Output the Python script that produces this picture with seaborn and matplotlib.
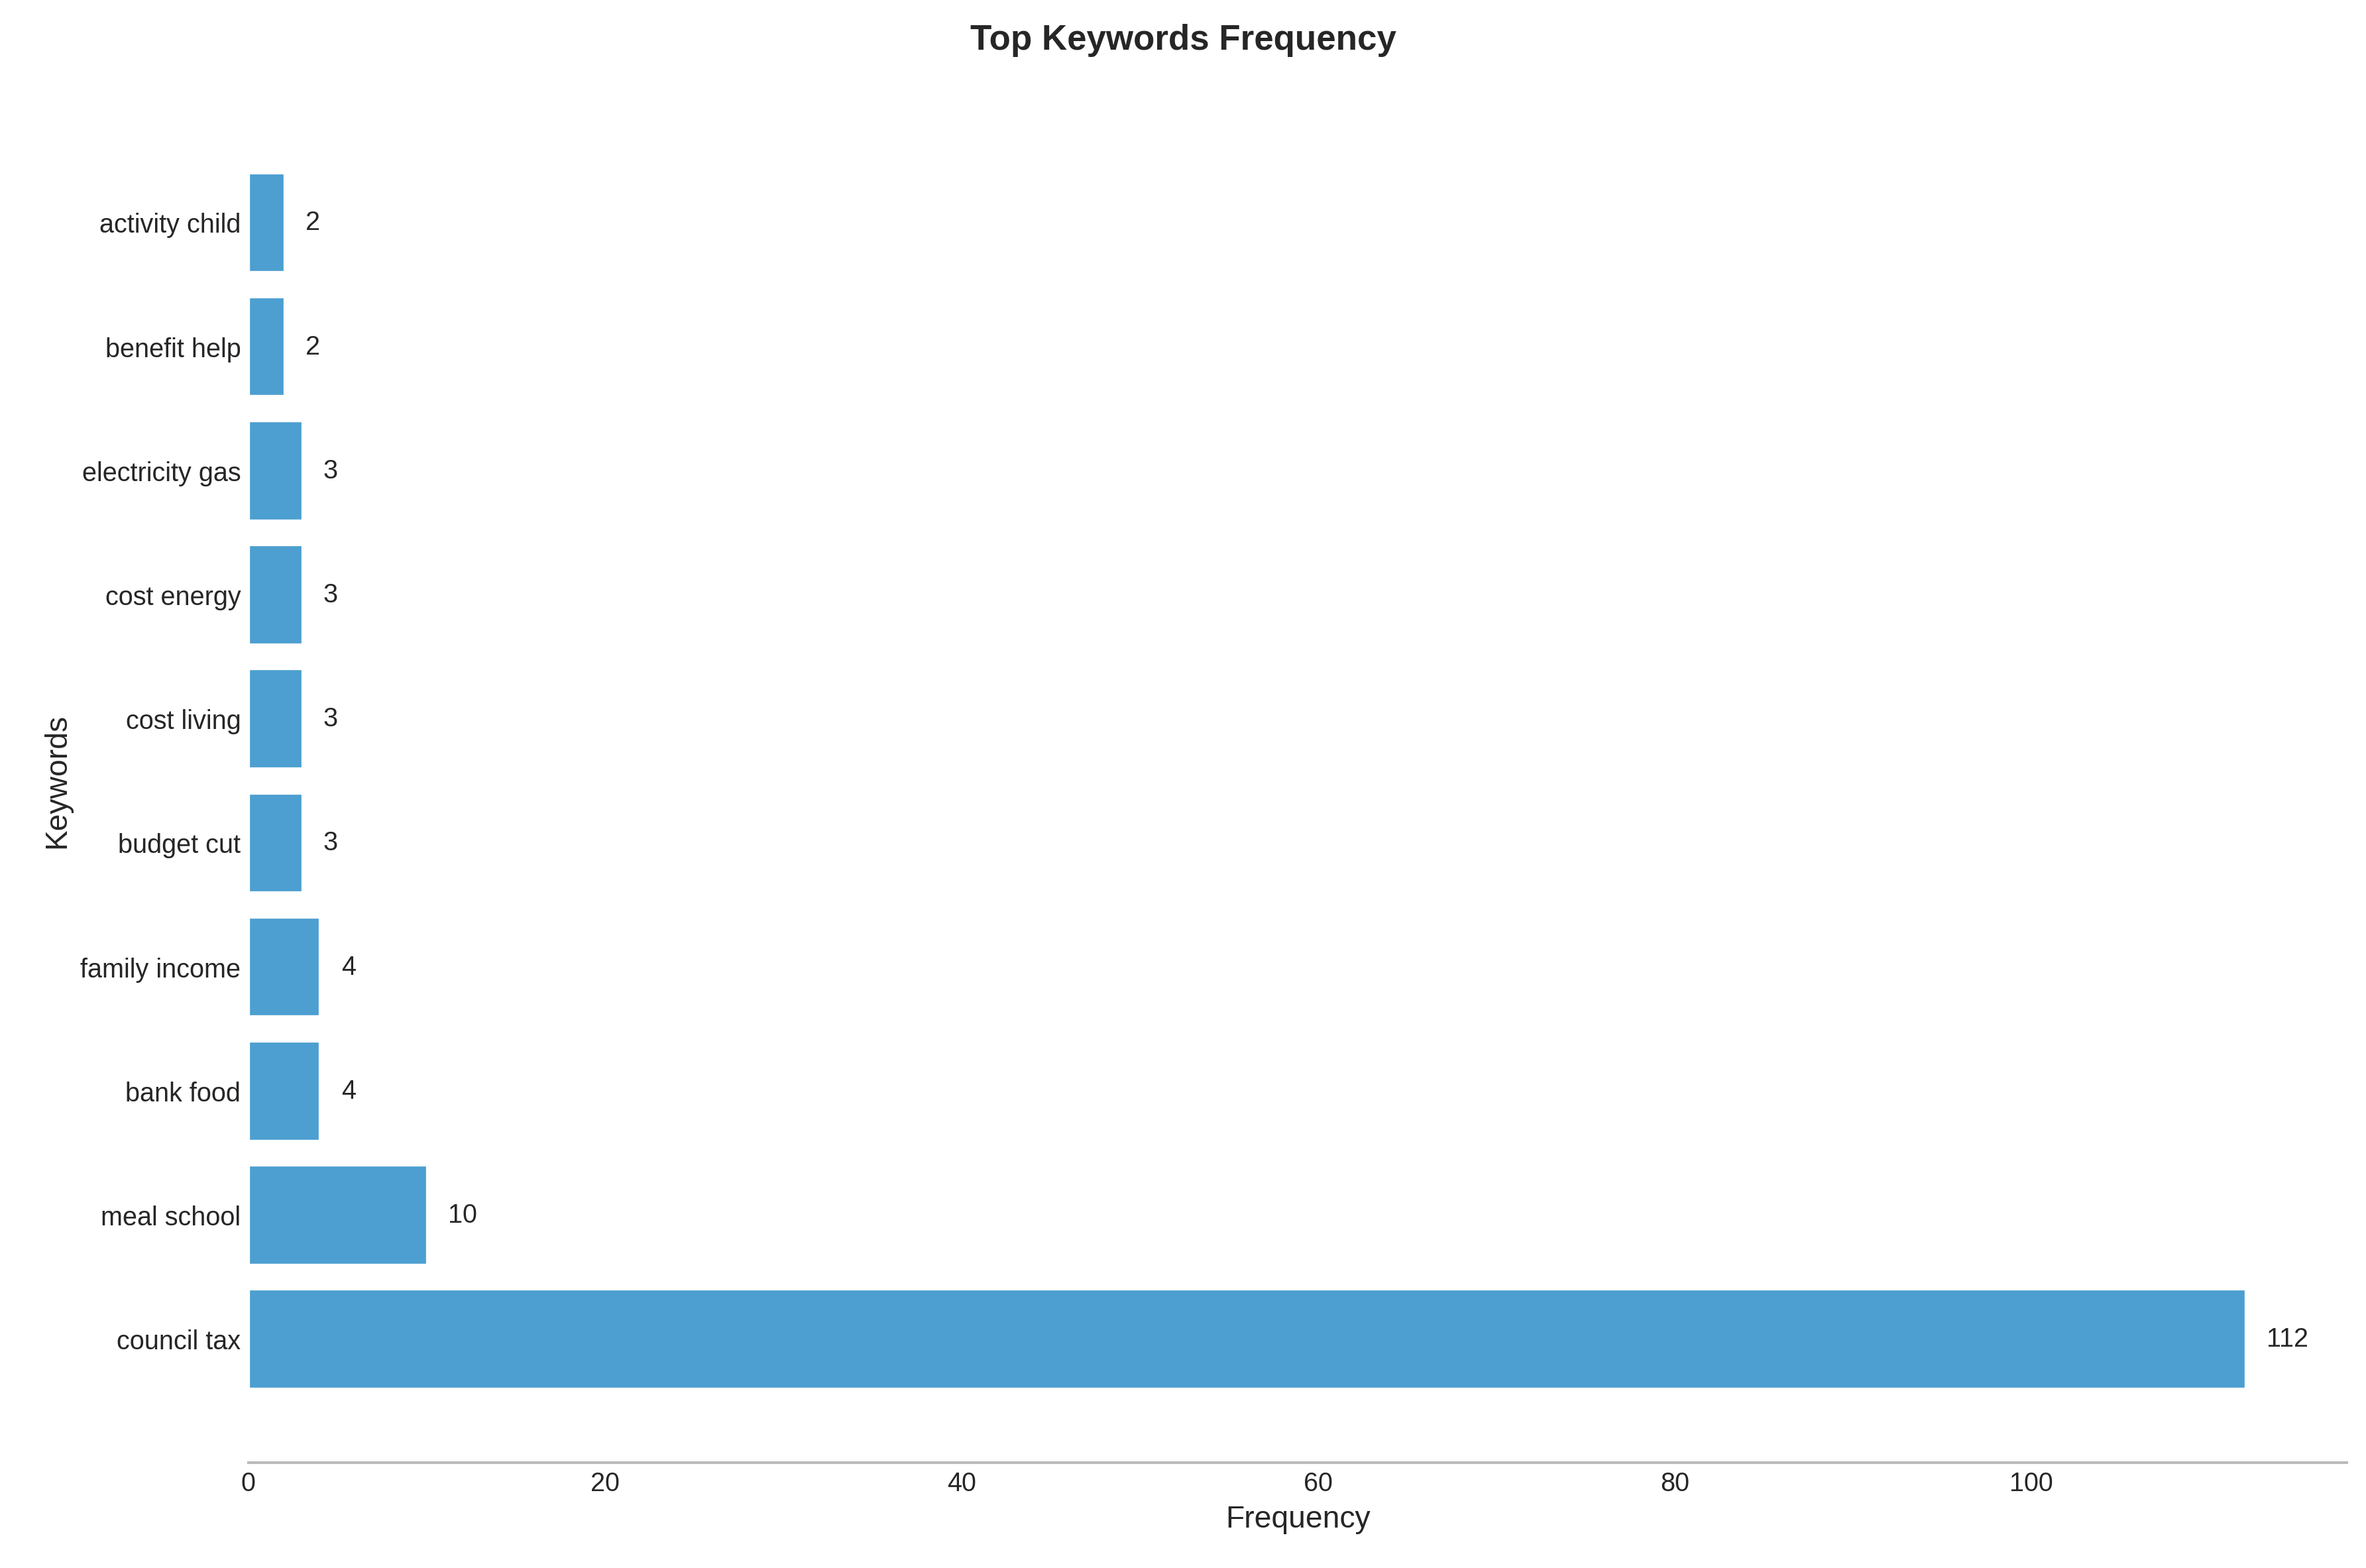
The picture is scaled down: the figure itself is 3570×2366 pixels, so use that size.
import matplotlib
matplotlib.use("Agg")
import matplotlib.pyplot as plt
import seaborn as sns
import pandas as pd

keywords = ["activity child", "benefit help", "electricity gas", "cost energy", "cost living",
            "budget cut", "family income", "bank food", "meal school", "council tax"]
freqs = [2, 2, 3, 3, 3, 3, 4, 4, 10, 112]

sns.set_theme(style="white")
plt.rcParams['font.family'] = ['Arial', 'Liberation Sans', 'DejaVu Sans']
df = pd.DataFrame({"Keywords": keywords, "Frequency": freqs})

fig = plt.figure(figsize=(15, 9.945), dpi=238)
ax = fig.add_axes([0.105, 0.067, 0.887, 0.87])
sns.barplot(data=df, x="Frequency", y="Keywords", orient="h", color="#4C9FD0",
            saturation=1, edgecolor="white", linewidth=1, width=0.8, ax=ax)
for i, v in enumerate(freqs):
    ax.text(v + 1.2, i, str(v), va="center", ha="left", fontsize=12)
ax.set_xlim(0, 117.7)
ax.set_ylim(len(keywords) - 0.5 + 0.5, -0.5 - 0.5)
for s in ["top", "right", "left"]:
    ax.spines[s].set_visible(False)
ax.spines["bottom"].set_color("#bbbbbb")
ax.tick_params(axis="both", labelsize=12, length=0)
ax.set_xlabel("Frequency", fontsize=14)
ax.set_ylabel("Keywords", fontsize=14)
fig.suptitle("Top Keywords Frequency", fontsize=16, fontweight="bold", y=0.985)
fig.savefig("out.png", dpi=238)
